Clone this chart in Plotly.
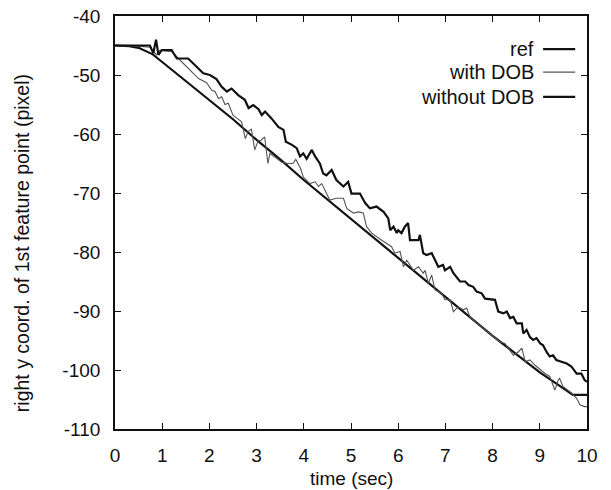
import plotly.graph_objects as go

# ---- data ----
ref_t = [0, 0.3, 0.5, 0.8, 1.0, 1.5, 2.0, 2.5, 3.0, 3.5, 4.0, 4.5, 5.0, 5.5, 6.0,
         6.5, 7.0, 7.5, 8.0, 8.5, 9.0, 9.5, 9.7, 10.0]
ref_v = [-45, -45.1, -45.4, -46.5, -47.8, -51.0, -54.2, -57.5, -61.0, -64.3, -67.8,
         -71.1, -74.4, -77.7, -80.9, -84.2, -87.6, -90.9, -94.2, -97.3, -100.4,
         -103.1, -104.2, -104.2]

with_t = [0, 0.5, 0.74, 0.81, 0.88, 0.95, 1.20, 1.38, 1.52, 1.63, 1.77, 1.94, 2.05,
          2.12, 2.19, 2.26, 2.33, 2.40, 2.50, 2.58, 2.68, 2.72, 2.76, 2.82, 2.89,
          2.96, 3.03, 3.10, 3.17, 3.24, 3.28, 3.40, 3.53, 3.66, 3.77, 3.83, 3.93,
          3.99, 4.13, 4.24, 4.31, 4.38, 4.45, 4.55, 4.69, 4.84, 4.91, 5.05, 5.16,
          5.26, 5.33, 5.44, 5.65, 5.86, 5.93, 6.04, 6.11, 6.18, 6.25, 6.32, 6.43,
          6.53, 6.57, 6.64, 6.71, 6.78, 6.92, 6.99, 7.10, 7.17, 7.27, 7.38, 7.45,
          7.52, 7.63, 7.77, 7.94, 8.05, 8.15, 8.26, 8.33, 8.44, 8.55, 8.62, 8.69,
          8.79, 8.90, 9.01, 9.11, 9.21, 9.32, 9.39, 9.42, 9.49, 9.60, 9.67, 9.78,
          9.85, 9.95, 10.0]
with_v = [-45, -45.1, -45.3, -46.0, -46.6, -45.8, -46.0, -47.5, -48.6, -49.4, -50.6,
          -51.3, -52.6, -52.8, -54.0, -53.7, -55.0, -54.8, -56.8, -57.3, -57.9,
          -59.3, -60.8, -59.6, -59.2, -62.7, -61.2, -61.0, -60.5, -65.0, -63.3,
          -64.0, -64.8, -65.0, -65.0, -64.3, -65.8, -67.3, -68.4, -68.1, -68.9,
          -68.4, -69.5, -71.2, -70.9, -70.9, -72.6, -73.4, -73.2, -73.4, -75.7,
          -76.8, -78.0, -79.1, -80.2, -79.9, -82.5, -81.4, -82.2, -83.1, -82.5,
          -83.6, -83.1, -85.3, -83.9, -86.4, -87.0, -88.1, -88.1, -90.1, -89.3,
          -89.8, -89.5, -91.0, -91.8, -92.7, -93.8, -94.6, -95.2, -95.5, -96.3,
          -97.5, -96.9, -96.3, -98.6, -98.3, -99.2, -100.0, -100.6, -101.1, -103.4,
          -101.7, -101.4, -102.8, -103.4, -103.9, -104.8, -105.9, -106.2, -106.2]

without_t = [0, 0.74, 0.81, 0.87, 0.92, 0.99, 1.20, 1.31, 1.55, 1.73, 1.87, 2.01,
             2.15, 2.26, 2.37, 2.47, 2.61, 2.75, 2.83, 2.93, 3.04, 3.11, 3.18, 3.32,
             3.46, 3.57, 3.62, 3.74, 3.85, 3.92, 3.99, 4.06, 4.17, 4.24, 4.34, 4.41,
             4.48, 4.59, 4.69, 4.84, 4.94, 5.01, 5.19, 5.30, 5.40, 5.54, 5.69, 5.79,
             5.83, 5.90, 5.97, 6.00, 6.07, 6.14, 6.21, 6.25, 6.43, 6.46, 6.53, 6.60,
             6.71, 6.85, 6.95, 6.99, 7.10, 7.17, 7.31, 7.42, 7.49, 7.59, 7.66, 7.77,
             7.84, 8.05, 8.12, 8.23, 8.30, 8.37, 8.44, 8.51, 8.62, 8.65, 8.72, 8.79,
             8.86, 8.93, 9.01, 9.07, 9.14, 9.21, 9.28, 9.35, 9.46, 9.57, 9.67, 9.78,
             9.88, 9.95, 10.0]
without_v = [-45, -45, -46.3, -44.0, -46.6, -45.8, -45.8, -47.2, -47.2, -48.6, -49.7,
             -50.0, -50.7, -52.0, -52.8, -52.3, -53.4, -54.2, -55.6, -55.1, -55.8,
             -56.8, -56.2, -57.4, -58.8, -59.3, -61.3, -61.8, -62.4, -63.8, -63.3,
             -64.2, -62.7, -63.8, -65.0, -66.7, -67.0, -66.1, -67.8, -68.9, -68.1,
             -70.1, -70.1, -71.7, -72.6, -72.3, -73.2, -74.3, -76.3, -75.7, -76.8,
             -76.3, -76.8, -75.7, -75.1, -78.0, -78.0, -77.1, -80.2, -80.5, -80.2,
             -82.5, -82.2, -83.1, -82.5, -83.6, -85.0, -85.0, -85.6, -85.9, -86.7,
             -87.0, -87.9, -88.1, -90.1, -90.4, -90.1, -91.2, -91.0, -92.1, -92.1,
             -93.8, -93.2, -94.4, -94.9, -94.6, -95.5, -95.8, -96.9, -97.7, -97.5,
             -98.3, -98.6, -98.9, -99.4, -100.6, -100.6, -101.7, -102.0]

series_names = ["ref", "with DOB", "without DOB"]
x_ticks = [0, 1, 2, 3, 4, 5, 6, 7, 8, 9, 10]
y_ticks = [-110, -100, -90, -80, -70, -60, -50, -40]
x_title = "time (sec)"
y_title = "right y coord. of 1st feature point (pixel)"

FONT = "Liberation Sans, Arial, Helvetica, sans-serif"
styles = {
    "ref": dict(color="#111111", width=2.2),
    "with DOB": dict(color="#555555", width=1.1),
    "without DOB": dict(color="#111111", width=2.2),
}

fig = go.Figure()
for name, tt, vv in [("ref", ref_t, ref_v), ("with DOB", with_t, with_v),
                     ("without DOB", without_t, without_v)]:
    fig.add_trace(go.Scatter(x=tt, y=vv, mode="lines", name=name,
                             line=styles[name], showlegend=False))

# manual legend (text right-aligned, line sample to the right), like gnuplot
leg_y = [0.920, 0.864, 0.804]
for name, yy in zip(series_names, leg_y):
    fig.add_annotation(xref="paper", yref="paper", x=0.892, y=yy, text=name,
                       showarrow=False, xanchor="right", yanchor="middle",
                       font=dict(family=FONT, size=20, color="#111"))
    fig.add_shape(type="line", xref="paper", yref="paper", x0=0.907, x1=0.975,
                  y0=yy, y1=yy, line=styles[name])

# axis titles
fig.add_annotation(xref="paper", yref="paper", x=0.5, y=-0.121, text=x_title,
                   showarrow=False, xanchor="center", yanchor="middle",
                   font=dict(family=FONT, size=19, color="#111"))
fig.add_annotation(xref="paper", yref="paper", x=-0.197, y=0.45, text=y_title,
                   showarrow=False, xanchor="center", yanchor="middle", textangle=-90,
                   font=dict(family=FONT, size=19.5, color="#111"))

axis_common = dict(showline=True, linecolor="#111", linewidth=1.6, mirror="allticks",
                   ticks="inside", ticklen=6, tickwidth=1.2, tickcolor="#111",
                   showgrid=False, zeroline=False, automargin=False,
                   tickfont=dict(family=FONT, size=19, color="#111"))

fig.update_xaxes(range=[0, 10], tickvals=x_ticks, ticktext=[str(v) for v in x_ticks],
                 ticklabelstandoff=8, **axis_common)
fig.update_yaxes(range=[-110, -40], tickvals=y_ticks, ticktext=[str(v) for v in y_ticks],
                 ticklabelstandoff=9, **axis_common)

fig.update_layout(width=611, height=490, plot_bgcolor="white", paper_bgcolor="white",
                  margin=dict(l=115, r=24, t=16, b=61, autoexpand=False),
                  font=dict(family=FONT))

fig.write_html("out.html", config={"displayModeBar": False},
               post_script="document.body.style.margin='0px';")
